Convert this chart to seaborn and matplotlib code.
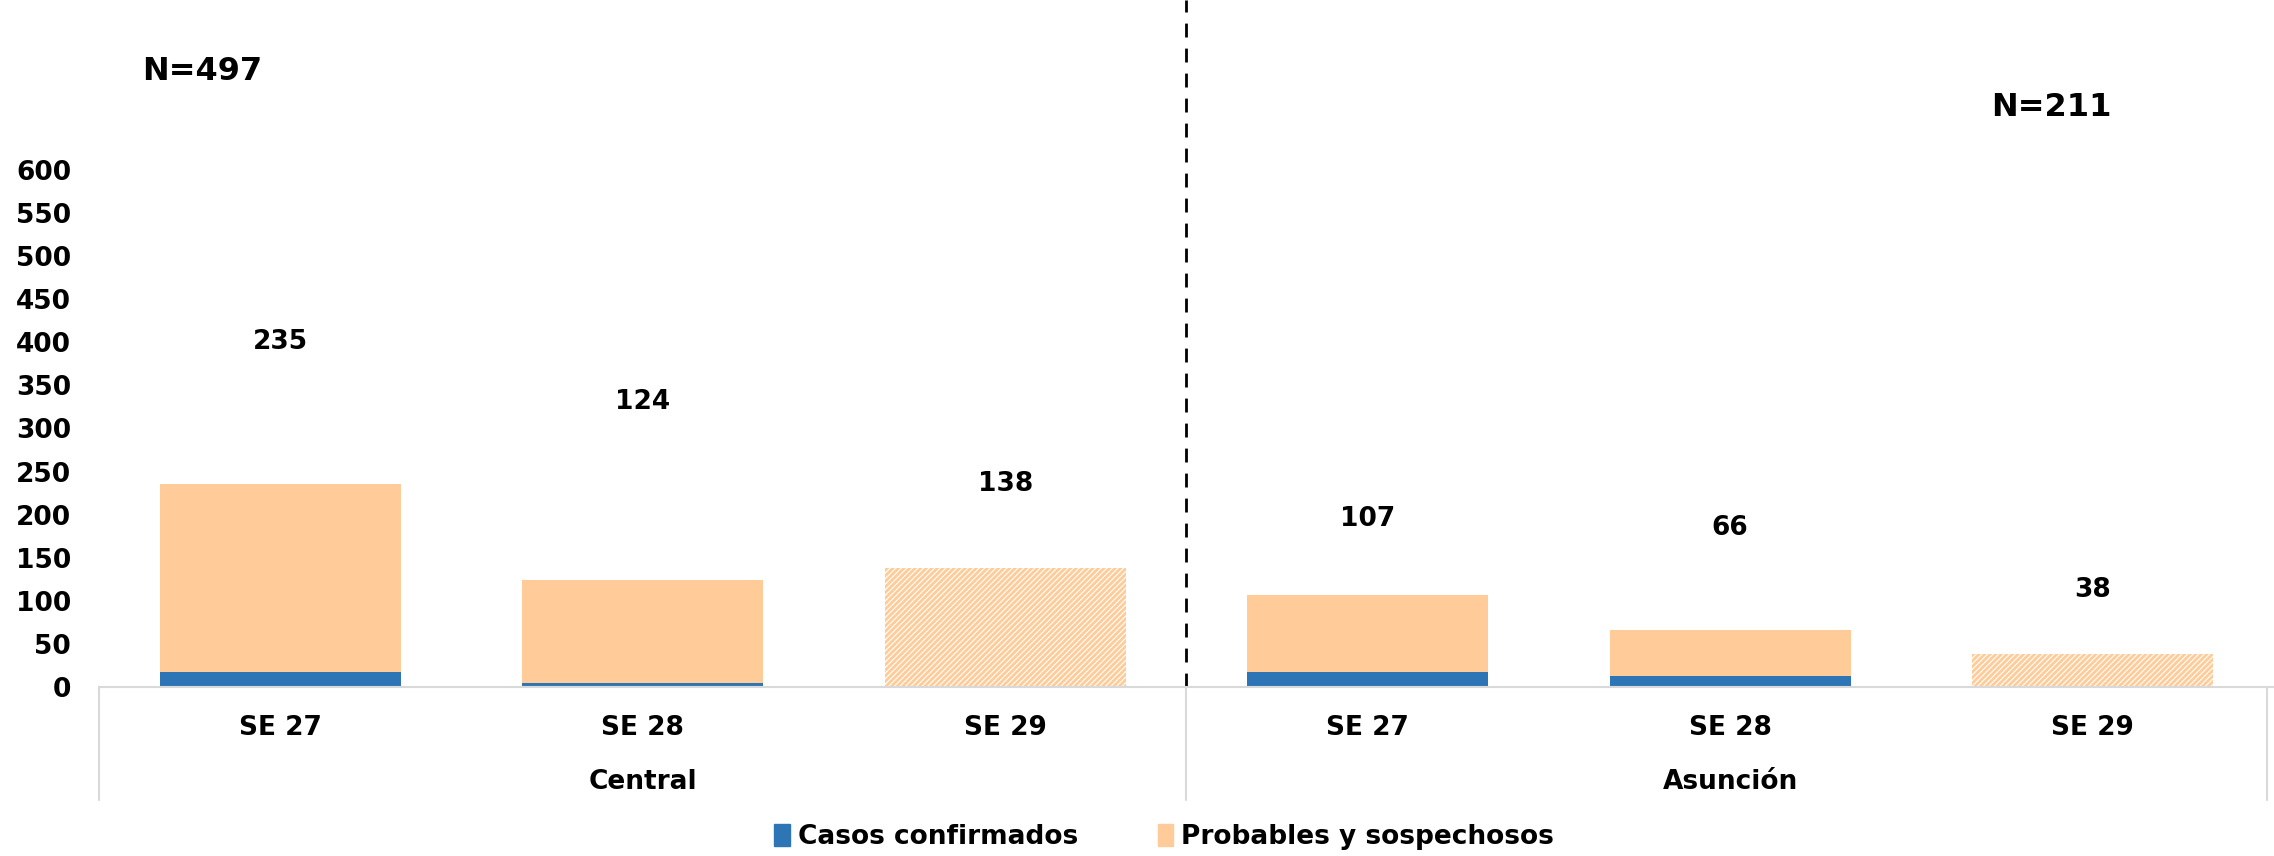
import pandas as pd
import seaborn as sns
import matplotlib.pyplot as plt
from matplotlib.patches import Patch

# data
regions = ['Central', 'Central', 'Central', 'Asunción', 'Asunción', 'Asunción']
weeks = ['SE 27', 'SE 28', 'SE 29', 'SE 27', 'SE 28', 'SE 29']
confirmados = [17, 5, 0, 17, 13, 0]
totales = [235, 124, 138, 107, 66, 38]
parcial = [False, False, True, False, False, True]   # SE 29 drawn hatched
label_y = [400, 331, 235, 195, 185, 113]             # where the total labels sit
group_n = {'Central': 497, 'Asunción': 211}

blue = '#2E75B6'
peach = '#FFCC99'

df = pd.DataFrame({'key': [r + ' ' + w for r, w in zip(regions, weeks)],
                   'total': totales, 'conf': confirmados})

sns.set_style('white')
plt.rcParams['font.family'] = ['DejaVu Sans']
plt.rcParams['font.weight'] = 'bold'
plt.rcParams['text.color'] = 'black'
plt.rcParams['xtick.color'] = 'black'
plt.rcParams['ytick.color'] = 'black'
plt.rcParams['hatch.linewidth'] = 2.0

fs = 19

fig = plt.figure(figsize=(22.74, 8.56), dpi=100)
ax = fig.add_axes([0.0435, 0.1974, 0.9565, 0.8026])

sns.barplot(data=df, x='key', y='total', color=peach, width=0.664,
            saturation=1, ax=ax, linewidth=0)
sns.barplot(data=df, x='key', y='conf', color=blue, width=0.664,
            saturation=1, ax=ax, linewidth=0)

# hatch the partial week bars
for i, p in enumerate(ax.patches[:len(df)]):
    if parcial[i]:
        p.set_facecolor('white')
        p.set_edgecolor(peach)
        p.set_hatch('//////')
        p.set_linewidth(0)

for i, (t, yy) in enumerate(zip(totales, label_y)):
    ax.text(i, yy, str(t), ha='center', va='center', fontsize=fs,
            fontweight='bold')

ax.set_xlim(-0.5, 5.5)
ax.set_ylim(0, 797)
ax.set_yticks(range(0, 601, 50))
ax.tick_params(axis='y', labelsize=fs, length=0, pad=20)
ax.set_xticks(range(6))
ax.set_xticklabels(weeks, fontsize=fs, fontweight='bold')
ax.tick_params(axis='x', length=0, pad=20)
ax.set_xlabel('')
ax.set_ylabel('')
for s in ['top', 'right', 'left']:
    ax.spines[s].set_visible(False)
ax.spines['bottom'].set_color('#D9D9D9')
ax.spines['bottom'].set_linewidth(1.5)

# dashed divider between regions
ax.plot([2.5, 2.5], [0, 797], ls=(0, (5, 4)), color='black', lw=2)

# group box lines under the axis
for xv in [-0.5, 2.5, 5.48]:
    ax.plot([xv, xv], [0, -0.165], transform=ax.get_xaxis_transform(),
            color='#D9D9D9', lw=1.5, clip_on=False)
ax.text(1, -0.138, 'Central', transform=ax.get_xaxis_transform(),
        ha='center', va='center', fontsize=fs, fontweight='bold')
ax.text(4, -0.138, 'Asunción', transform=ax.get_xaxis_transform(),
        ha='center', va='center', fontsize=fs, fontweight='bold')

fig.text(0.089, 0.916, 'N=%d' % group_n['Central'], ha='center', va='center',
         fontsize=23, fontweight='bold')
fig.text(0.902, 0.875, 'N=%d' % group_n['Asunción'], ha='center', va='center',
         fontsize=23, fontweight='bold')

handles = [Patch(color=blue, label='Casos confirmados'),
           Patch(color=peach, label='Probables y sospechosos')]
fig.legend(handles=handles, loc='center', bbox_to_anchor=(0.512, 0.022),
           ncol=2, frameon=False, fontsize=fs, handlelength=0.6,
           handleheight=0.9, handletextpad=0.3, columnspacing=3)

fig.savefig('out.png', dpi=100)
